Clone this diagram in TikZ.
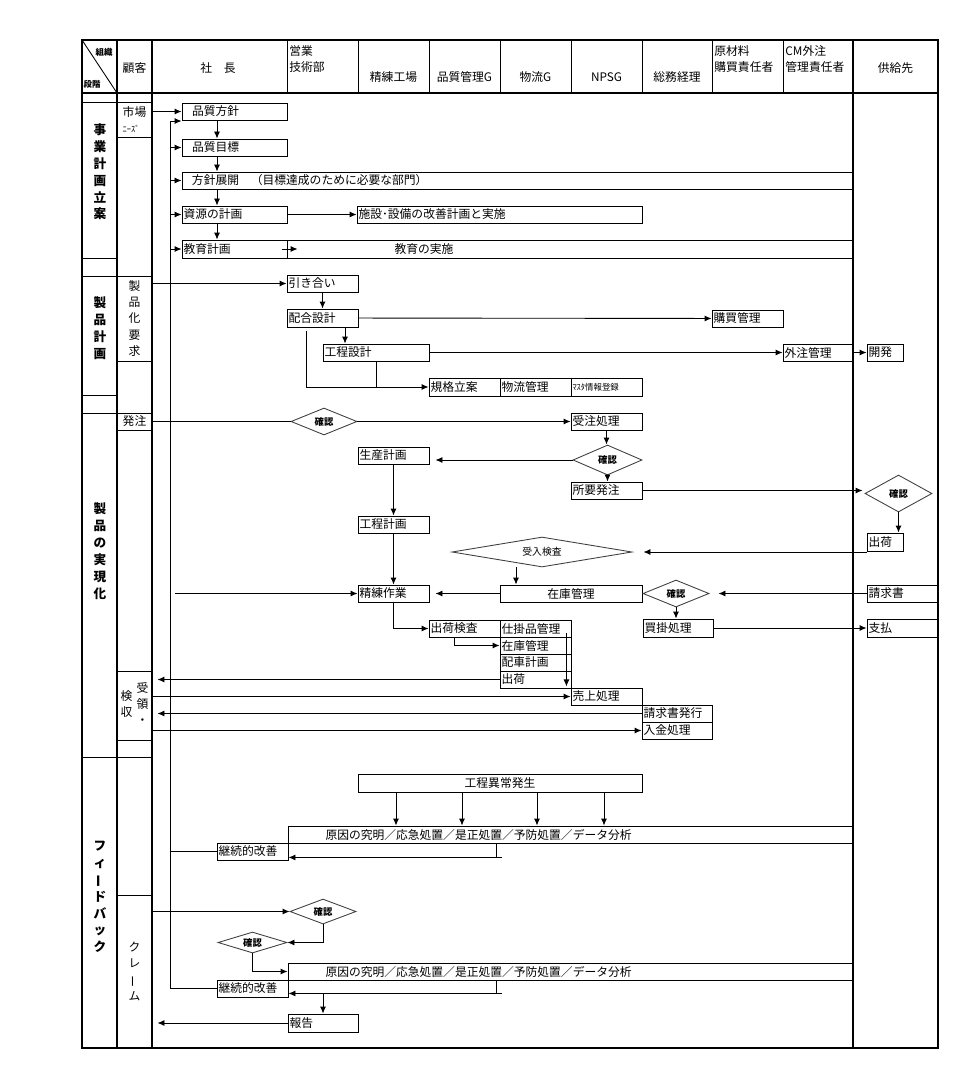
\documentclass[tikz,border=0pt]{standalone}
\usepackage{fontspec}
\usepackage{graphicx}
\usepackage{tikz}
\usetikzlibrary{arrows.meta, positioning, calc, shapes.geometric}
\setmainfont{Noto Sans CJK JP}
\newcommand{\fntbox}{\fontsize{6.7}{8.5}\selectfont}
\newcommand{\fntvert}{\fontsize{6.7}{9.2}\selectfont}
\newcommand{\fntstage}{\bfseries\fontsize{7.2}{9.6}\selectfont}
\newcommand{\fnthead}{\fontsize{6.7}{9}\selectfont}
\newcommand{\fntdia}{\bfseries\fontsize{5.3}{6}\selectfont}
\newcommand{\fnttiny}{\fontsize{4.8}{5.5}\selectfont}
\newcommand{\vbar}{\rotatebox[origin=c]{90}{ー}}

\begin{document}
\begin{tikzpicture}[x=0.2mm, y=-0.2mm, line width=0.5pt,
    >={Latex[length=1.4mm, width=1.2mm]},
    lane/.style={line width=1.1pt},
    box/.style={draw, rectangle, inner xsep=0.3mm, inner ysep=0pt, minimum height=3.4mm, font=\fntbox},
    lbox/.style={box, align=left, text width=#1},
    cbox/.style={box, align=center, minimum width=#1},
    dia/.style={draw=black!75, diamond, aspect=3, inner sep=0pt, font=\fntdia},
    cell/.style={draw, minimum width=7mm, inner sep=0pt, align=center, font=\fntvert},
    stage/.style={inner sep=0pt, align=center, font=\fntstage},
    htxt/.style={inner sep=0pt, align=left, font=\fnthead}]
    \useasboundingbox (0,0) rectangle (964,1074);

    % 枠
    \draw[lane] (82,40) rectangle (938,1048);
    \draw[lane] (82,93) -- (938,93);
    \foreach \x in {117,152,853} \draw[lane] (\x,40) -- (\x,1048);
    \foreach \x in {287,358,429,500,571,642,712,783} \draw (\x,40) -- (\x,93);
    \draw (82,40) -- (117,93);
    \foreach \y in {102,276,413,757} \draw (82,\y) -- (152,\y);
    \foreach \y in {258,395} \draw (82,\y) -- (117,\y);

    % 見出し
    \node[htxt, font=\bfseries\fnttiny] (hso) at (104,52) {組織};
    \node[htxt, font=\bfseries\fnttiny] (hdk) at (92,84) {段階};
    \node[htxt] (hkk) at (134.5,68) {顧客};
    \node[htxt] (hsc) at (218,68) {社　長};
    \node[htxt, anchor=north west] (heg) at (289,45) {営業\\技術部};
    \node[htxt] (hsr) at (393.5,77) {精練工場};
    \node[htxt] (hqc) at (464.5,77) {品質管理G};
    \node[htxt] (hbr) at (535.5,77) {物流G};
    \node[htxt] (hnp) at (606.5,77) {NPSG};
    \node[htxt] (hsm) at (677,77) {総務経理};
    \node[htxt, anchor=north west] (hgz) at (714,45) {原材料\\購買責任者};
    \node[htxt, anchor=north west] (hcm) at (785,45) {CM外注\\管理責任者};
    \node[htxt] (hks) at (895.5,68) {供給先};

    % 段階
    \node[stage] (s1) at (100,172) {事\\業\\計\\画\\立\\案};
    \node[stage] (s2) at (100,328) {製\\品\\計\\画};
    \node[stage] (s3) at (100,551) {製\\品\\の\\実\\現\\化};
    \node[stage] (s4) at (100,897) {フ\\ィ\\\vbar\\ド\\バ\\ッ\\ク};

    % 顧客
    \node[cell, minimum height=7mm, align=left] (cmk) at (134.5,119.5) {市場\\{\fnttiny ﾆｰｽﾞ}};
    \node[cell, minimum height=17mm] (cyk) at (134.5,318.5) {製\\品\\化\\要\\求};
    \node[cell, minimum height=3.4mm] (chc) at (134.5,421.5) {発注};
    \node[cell, minimum height=13.8mm] (cuk) at (134.5,705.5)
        {\begin{tabular}[c]{@{}c@{}}検\\収\end{tabular}\hspace{0.8mm}\begin{tabular}[c]{@{}c@{}}受\\領\\・\end{tabular}};
    \node[cell, minimum height=30.6mm] (ccl) at (134.5,971.5) {ク\\レ\\\vbar\\ム};

    % 事業計画立案
    \node[lbox=20.4mm] (pq) at (234.5,111.5) {\hspace*{1.7mm}品質方針};
    \node[lbox=20.4mm] (pg) at (234.5,147.5) {\hspace*{1.7mm}品質目標};
    \node[lbox=133.6mm] (ph) at (517.5,180.5) {\hspace*{1.7mm}方針展開　（目標達成のために必要な部門）};
    \node[lbox=20.4mm] (rs) at (234.5,214.5) {資源の計画};
    \node[lbox=56.4mm] (fc) at (499.5,214.5) {施設･設備の改善計画と実施};
    \node[lbox=20.4mm, minimum height=3.6mm] (ep) at (234.5,249) {教育計画};
    \node[lbox=112.6mm, minimum height=3.6mm] (ed) at (570,249) {\hspace*{21.2mm}教育の実施};

    \coordinate (ax) at (217,0);
    \foreach \a/\b in {pq/pg, pg/ph, ph/rs, rs/ep} \draw[->] (\a.south -| ax) -- (\b.north -| ax);
    \draw[->] (cmk.east |- pq.west) -- (pq.west);
    \draw[->] (rs) -- (fc);
    \draw[->] ([xshift=-1mm]ep.east) -- ([xshift=2.2mm]ed.west);

    \coordinate (fbt) at (170,121);
    \draw[->] (fbt) -- (fbt -| pq.west);
    \foreach \b in {pg, ph, rs, ep} \draw[->] (fbt |- \b.west) -- (\b.west);

    % 製品計画
    \node[lbox=13.6mm] (hk) at (322.5,283.5) {引き合い};
    \node[lbox=13.6mm, minimum height=3.6mm] (hg) at (322.5,318) {配合設計};
    \node[lbox=20.6mm] (kg) at (376,352.5) {工程設計};
    \node[lbox=13.6mm] (km) at (747.5,318.5) {購買管理};
    \node[lbox=13.4mm] (gc) at (818,352.5) {外注管理};
    \node[lbox=6.6mm] (kh) at (885,352.5) {開発};
    \node[lbox=13.6mm, minimum height=3.6mm] (ki) at (464.5,387) {規格立案};
    \node[lbox=13.6mm, minimum height=3.6mm] (bk) at (535.5,387) {物流管理};
    \node[lbox=13.6mm, minimum height=3.6mm, font=\fnttiny] (ms) at (606.5,387) {ﾏｽﾀ情報登録};

    \draw[->] (cyk.east |- hk.west) -- (hk.west);
    \draw[->] (hk) -- (hg);
    \draw[->] (hg) -- (km);
    \draw[->] ([xshift=4.5mm]hg.south) -- ([xshift=4.5mm]hg.south |- kg.north);
    \draw[->] (kg) -- (gc);
    \draw[->] (gc) -- (kh);
    \draw[->] ([shift={(-16.5,4)}]hg.south) |- (ki.west);
    \draw (kg.south) -- (kg.south |- ki.west);

    % 製品の実現化
    \node[dia, minimum width=13.2mm, minimum height=5.4mm] (cf1) at (324,421.5) {確認};
    \node[lbox=13.6mm] (jc) at (606.5,421.5) {受注処理};
    \node[dia, minimum width=13.8mm, minimum height=6mm] (cf2) at (607.5,460) {確認};
    \node[lbox=13.6mm] (sk) at (393.5,455.5) {生産計画};
    \node[lbox=13.6mm] (sh) at (606.5,490.5) {所要発注};
    \node[dia, minimum width=13.4mm, minimum height=7.4mm] (cf3) at (898.5,493.5) {確認};
    \node[lbox=6.6mm, minimum height=3.6mm] (ss) at (885,542) {出荷};
    \node[lbox=13.6mm] (kk) at (393.5,524.5) {工程計画};
    \node[dia, minimum width=36mm, minimum height=6mm, font=\fontsize{5.6}{6}\selectfont] (uk) at (542,552) {受入検査};
    \node[cbox=28.4mm] (zk) at (571,593.5) {在庫管理};
    \node[lbox=13.6mm] (sr) at (393.5,593.5) {精練作業};
    \node[dia, minimum width=13.2mm, minimum height=5.4mm] (cf4) at (676,593.5) {確認};
    \node[lbox=13.4mm] (sq) at (902,593.5) {請求書};
    \node[lbox=13.4mm, minimum height=3.6mm] (kp) at (678,628) {買掛処理};
    \node[lbox=13.4mm, minimum height=3.6mm] (sp) at (902,628) {支払};
    \node[lbox=13.6mm] (sa) at (464.5,628.5) {出荷検査};
    \node[lbox=13.6mm] (sh2) at (535.5,628.5) {仕掛品管理};
    \node[lbox=13.6mm] (zk2) at (535.5,645.5) {在庫管理};
    \node[lbox=13.6mm] (hs) at (535.5,662.5) {配車計画};
    \node[lbox=13.6mm] (sk2) at (535.5,679.5) {出荷};
    \node[lbox=13.6mm] (ur) at (606.5,696.5) {売上処理};
    \node[lbox=13.4mm] (sq2) at (677,713.5) {請求書発行};
    \node[lbox=13.4mm] (nk) at (677,730.5) {入金処理};

    \draw (chc.east) -- (cf1.west);
    \draw[->] (cf1.east) -- (jc.west);
    \draw[->] (jc.south) -- (jc.south |- cf2.north);
    \draw[->] (cf2.west) -- ([xshift=1.2mm]sk.east |- cf2.west);
    \draw[->] (cf2.south) -- (cf2.south |- sh.north);
    \draw[->] (sh.east) -- ([xshift=-0.4mm]sh.east -| cf3.west);
    \draw[->] (cf3.south) -- (cf3.south |- ss.north);
    \draw[->] (ss.west |- uk.east) -- ([xshift=2.2mm]uk.east);
    \draw[->] ([xshift=-5.2mm]uk.south) -- ([xshift=-5.2mm]uk.south |- zk.north);
    \draw[->] (zk.west) -- ([xshift=1.2mm]sr.east);
    \draw[->] (sk) -- (kk);
    \draw[->] (kk) -- (sr);
    \coordinate (sre) at (175,593.5);
    \draw[->] (sre) -- (sr.west);
    \draw[->] (sq.west) -- ([xshift=1.8mm]cf4.east);
    \draw[->] (cf4.south) -- (cf4.south |- kp.north);
    \draw[->] (kp) -- (sp);
    \draw[->] (sr.south) |- (sa.west);
    \draw[->] ([xshift=-2mm]sa.south) |- (zk2.west);
    \draw[->] ([shift={(-5,-4)}]sh2.south east) -- ([shift={(-5,-2)}]sk2.south east);
    \draw[->] (sk2.west) -- ([xshift=1mm]cuk.east |- sk2.west);
    \draw[->] (cuk.east |- ur.west) -- (ur.west);
    \draw[->] (sq2.west) -- ([xshift=1mm]cuk.east |- sq2.west);
    \draw[->] (cuk.east |- nk.west) -- (nk.west);

    % フィードバック
    \node[cbox=56.8mm, minimum height=3.6mm] (ij) at (500,783) {工程異常発生};
    \node[lbox=112.4mm] (gn1) at (570.5,834.5) {\hspace*{7.2mm}原因の究明／応急処置／是正処置／予防処置／データ分析};
    \node[lbox=13.6mm] (kz1) at (252.5,851.5) {継続的改善};
    \node[dia, minimum width=13.2mm, minimum height=5mm] (cf5) at (323,911.5) {確認};
    \node[dia, minimum width=13.8mm, minimum height=4.2mm] (cf6) at (252.5,942.5) {確認};
    \node[lbox=112.4mm] (gn2) at (570.5,971.5) {\hspace*{7.2mm}原因の究明／応急処置／是正処置／予防処置／データ分析};
    \node[lbox=13.6mm] (kz2) at (252.5,988.5) {継続的改善};
    \node[lbox=13.4mm, minimum height=3.6mm] (hk2) at (323,1023) {報告};

    \foreach \d in {-20.8,-7.6,7.4,20.8}
        \draw[->] ([xshift=\d mm]ij.south) -- ([xshift=\d mm]ij.south |- gn1.north);
    \draw (fbt |- kz1.west) -- (kz1.west);
    \coordinate (t1) at ([xshift=41.8mm]gn1.south west);
    \draw (t1) -- ++(0,14) coordinate (t1b);
    \draw[->] ([xshift=1mm]t1b) -- (t1b -| kz1.east);

    \draw[->] (ccl.east |- cf5.west) -- (cf5.west);
    \draw[->] (cf5.south) |- (cf6.east);
    \draw[->] (cf6.south) |- (gn2.west);
    \draw (fbt) -- (fbt |- kz2.west) -- (kz2.west);
    \coordinate (t2) at ([xshift=41.8mm]gn2.south west);
    \draw (t2) -- ++(0,13) coordinate (t2b);
    \draw[->] ([xshift=1mm]t2b) -- (t2b -| kz2.east);
    \draw[->] (hk2.north |- t2b) -- (hk2.north);
    \draw[->] (hk2.west) -- ([xshift=1mm]ccl.east |- hk2.west);
\end{tikzpicture}
\end{document}
